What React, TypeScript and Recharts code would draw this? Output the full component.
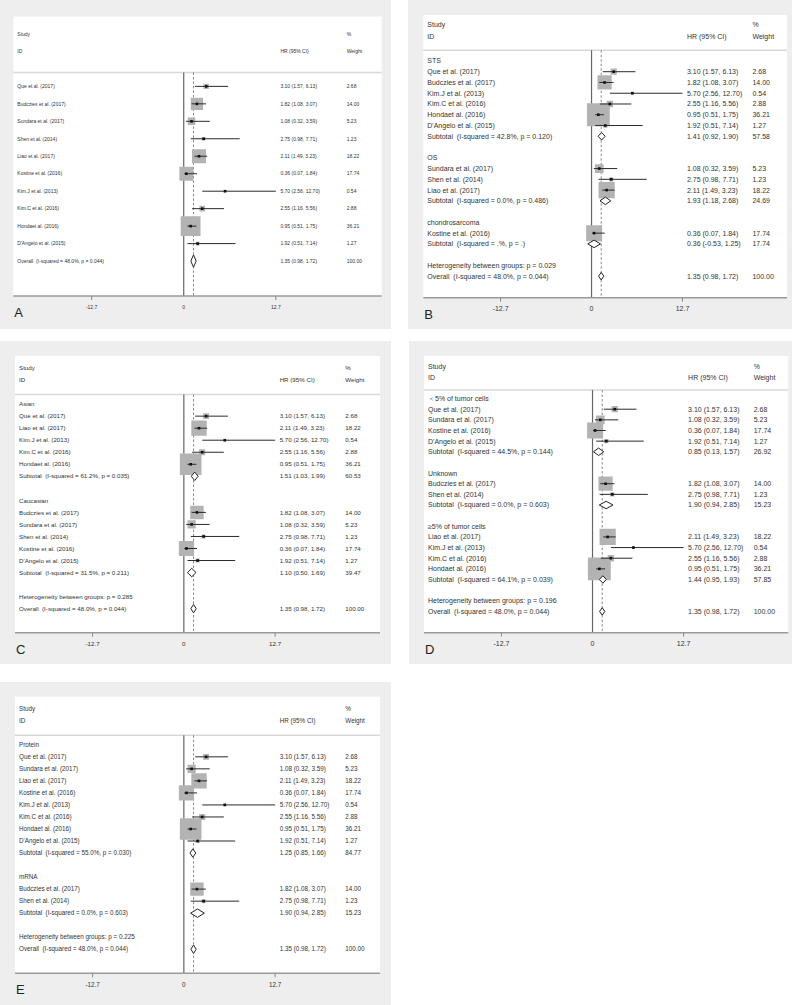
import React from "react";
import { ComposedChart, XAxis, YAxis, ZAxis, Scatter, ReferenceLine, CartesianGrid } from "recharts";

// study-level estimates (same ten studies in every panel)
const STUDIES = [
  "Que et al. (2017)",
  "Budczies et al. (2017)",
  "Sundara et al. (2017)",
  "Shen et al. (2014)",
  "Liao et al. (2017)",
  "Kostine et al. (2016)",
  "Kim.J et al. (2013)",
  "Kim.C et al. (2016)",
  "Hondaet al. (2016)",
  "D'Angelo et al. (2015)",
];
const HR = [3.1, 1.82, 1.08, 2.75, 2.11, 0.36, 5.7, 2.55, 0.95, 1.92];
const LO = [1.57, 1.08, 0.32, 0.98, 1.49, 0.07, 2.56, 1.16, 0.51, 0.51];
const HI = [6.13, 3.07, 3.59, 7.71, 3.23, 1.84, 12.7, 5.56, 1.75, 7.14];
const WEIGHT = [2.68, 14.0, 5.23, 1.23, 18.22, 17.74, 0.54, 2.88, 36.21, 1.27];

const OVERALL_EST = [1.35, 0.98, 1.72];
const OVERALL_STAT = "I-squared = 48.0%, p = 0.044";

const X_TICKS = [-12.7, 0, 12.7];
const X_DOMAIN: [number, number] = [-23.5, 27.3];

// B: histology
const B_NAMES = ["STS", "OS", "chondrosarcoma"];
const B_MEMBERS = [[0, 1, 6, 7, 8, 9], [2, 3, 4], [5]];
const B_SUB = [[1.41, 0.92, 1.9], [1.93, 1.18, 2.68], [0.36, -0.53, 1.25]];
const B_SUB_W = [57.58, 24.69, 17.74];
const B_STAT = ["I-squared = 42.8%, p = 0.120", "I-squared = 0.0%, p = 0.486", "I-squared = .%, p = ."];
const B_HET = "0.029";

// C: ethnicity
const C_NAMES = ["Asian", "Caucasian"];
const C_MEMBERS = [[0, 4, 6, 7, 8], [1, 2, 3, 5, 9]];
const C_SUB = [[1.51, 1.03, 1.99], [1.1, 0.5, 1.69]];
const C_SUB_W = [60.53, 39.47];
const C_STAT = ["I-squared = 61.2%, p = 0.035", "I-squared = 31.5%, p = 0.211"];
const C_HET = "0.285";

// D: cut-off
const D_NAMES = ["\uFF1C5% of tumor cells", "Unknown", "\u22655% of tumor cells"];
const D_MEMBERS = [[0, 2, 5, 9], [1, 3], [4, 6, 7, 8]];
const D_SUB = [[0.85, 0.13, 1.57], [1.9, 0.94, 2.85], [1.44, 0.95, 1.93]];
const D_SUB_W = [26.92, 15.23, 57.85];
const D_STAT = ["I-squared = 44.5%, p = 0.144", "I-squared = 0.0%, p = 0.603", "I-squared = 64.1%, p = 0.039"];
const D_HET = "0.196";

// E: detection method
const E_NAMES = ["Protein", "mRNA"];
const E_MEMBERS = [[0, 2, 4, 5, 6, 7, 8, 9], [1, 3]];
const E_SUB = [[1.25, 0.85, 1.66], [1.9, 0.94, 2.85]];
const E_SUB_W = [84.77, 15.23];
const E_STAT = ["I-squared = 55.0%, p = 0.030", "I-squared = 0.0%, p = 0.603"];
const E_HET = "0.225";

const FONT = "'Liberation Sans', Arial, sans-serif";
const TEXT = "#333";

type Row = { y: number; kind: string; label: string; hr?: number; lo?: number; hi?: number; w?: number };

function fmt(hr: number, lo: number, hi: number) {
  return `${hr.toFixed(2)} (${lo.toFixed(2)}, ${hi.toFixed(2)})`;
}

function buildRows(names?: string[], members?: number[][], sub?: number[][], subW?: number[], stat?: string[], het?: string) {
  const rows: Row[] = [];
  let y = 0;
  const study = (i: number) =>
    rows.push({ y: y++, kind: "study", label: STUDIES[i], hr: HR[i], lo: LO[i], hi: HI[i], w: WEIGHT[i] });
  if (!names) {
    STUDIES.forEach((_, i) => study(i));
  } else {
    names.forEach((name, g) => {
      rows.push({ y: y++, kind: "group", label: name });
      members![g].forEach(study);
      rows.push({
        y: y++, kind: "sub", label: `Subtotal  (${stat![g]})`,
        hr: sub![g][0], lo: sub![g][1], hi: sub![g][2], w: subW![g],
      });
      y++;
    });
    rows.push({ y: y++, kind: "het", label: `Heterogeneity between groups: p = ${het}` });
  }
  rows.push({
    y: y++, kind: "overall", label: `Overall  (${OVERALL_STAT})`,
    hr: OVERALL_EST[0], lo: OVERALL_EST[1], hi: OVERALL_EST[2], w: 100,
  });
  return { rows, n: y };
}

type Panel = {
  letter: string;
  box: { x: number; y: number; w: number; h: number };
  plot: { l: number; t: number; r: number; b: number };
  font: number;
  boxK: number;
  yTop?: number;
  hdr?: [number, number];
  sep?: number;
  data: { rows: Row[]; n: number };
};

const PANELS: Panel[] = [
  {
    letter: "A", box: { x: 0, y: 0, w: 391, h: 329 }, plot: { l: 13.3, t: 16.5, r: 381.7, b: 296 },
    font: 5, boxK: 3.3, data: buildRows(),
  },
  {
    letter: "B", box: { x: 408, y: 0, w: 384, h: 329 }, plot: { l: 423.3, t: 15, r: 787, b: 297.7 },
    font: 7, boxK: 3.8, yTop: -4.27, hdr: [-3.35, -2.25], sep: -1.0,
    data: buildRows(B_NAMES, B_MEMBERS, B_SUB, B_SUB_W, B_STAT, B_HET),
  },
  {
    letter: "C", box: { x: 0, y: 341, w: 391, h: 323 }, plot: { l: 15, t: 356, r: 380, b: 632.7 },
    font: 6.2, boxK: 3.6, data: buildRows(C_NAMES, C_MEMBERS, C_SUB, C_SUB_W, C_STAT, C_HET),
  },
  {
    letter: "D", box: { x: 409, y: 341, w: 383, h: 323 }, plot: { l: 424, t: 356, r: 788.3, b: 632.7 },
    font: 7, boxK: 3.8, data: buildRows(D_NAMES, D_MEMBERS, D_SUB, D_SUB_W, D_STAT, D_HET),
  },
  {
    letter: "E", box: { x: 0, y: 682, w: 391, h: 323 }, plot: { l: 15, t: 696.7, r: 380, b: 973.3 },
    font: 6.3, boxK: 3.6, data: buildRows(E_NAMES, E_MEMBERS, E_SUB, E_SUB_W, E_STAT, E_HET),
  },
];

const X_AXIS_H = 20;

function ForestPanel({ p }: { p: Panel }) {
  const { rows, n } = p.data;
  const yTop = p.yTop ?? -4;
  const yBottom = n + 1;
  const hdr = p.hdr ?? [-3, -2];
  const sep = p.sep ?? -0.8;
  const plotW = p.plot.r - p.plot.l;
  const hrDx = plotW * 0.725;
  const wDx = plotW * 0.905;
  const margin = {
    left: p.plot.l - p.box.x,
    top: p.plot.t - p.box.y,
    right: p.box.x + p.box.w - p.plot.r,
    bottom: p.box.y + p.box.h - p.plot.b - X_AXIS_H,
  };

  const studyRows = rows.filter((r) => r.kind === "study");
  const studies = studyRows.map((r) => ({ x: r.hr!, y: r.y, w: r.w! }));
  const ciLines = studyRows.map((r) => [
    { x: r.lo!, y: r.y },
    { x: r.hi!, y: r.y },
  ]);
  const diamonds = rows
    .filter((r) => r.kind === "sub" || r.kind === "overall")
    .map((r) => [
      { x: r.lo!, y: r.y },
      { x: r.hr!, y: r.y - 0.35 },
      { x: r.hi!, y: r.y },
      { x: r.hr!, y: r.y + 0.35 },
      { x: r.lo!, y: r.y },
    ]);
  const byY = new Map(rows.map((r) => [r.y, r]));
  const yTicks = [...hdr, ...rows.map((r) => r.y)];

  const txt = (x: number, y: number, s: string, key: string) => (
    <text key={key} x={x} y={y} dy="0.35em" fontSize={p.font} fontFamily={FONT} fill={TEXT} style={{ whiteSpace: "pre" }}>
      {s}
    </text>
  );

  const rowTick = (t: any) => {
    const v = t.payload.value;
    const x = t.x;
    const y = t.y;
    if (v === hdr[0]) return <g>{txt(x + 4, y, "Study", "a")}{txt(x + wDx, y, "%", "b")}</g>;
    if (v === hdr[1])
      return <g>{txt(x + 4, y, "ID", "a")}{txt(x + hrDx, y, "HR (95% CI)", "b")}{txt(x + wDx, y, "Weight", "c")}</g>;
    const r = byY.get(v);
    if (!r) return <g />;
    return (
      <g>
        {txt(x + 4, y, r.label, "a")}
        {r.hr !== undefined && txt(x + hrDx, y, fmt(r.hr, r.lo!, r.hi!), "b")}
        {r.w !== undefined && txt(x + wDx, y, r.w.toFixed(2), "c")}
      </g>
    );
  };

  const xTick = (t: any) => {
    const v = t.payload.value;
    return (
      <g>
        {v !== 0 && <line x1={t.x} x2={t.x} y1={t.y} y2={t.y + 4} stroke="#888" strokeWidth={1} />}
        <text x={t.x} y={t.y + 11} dy="0.35em" textAnchor="middle" fontSize={p.font} fontFamily={FONT} fill={TEXT}>
          {String(v)}
        </text>
      </g>
    );
  };

  return (
    <div style={{ position: "absolute", left: p.box.x, top: p.box.y, width: p.box.w, height: p.box.h, background: "#eeeeee" }}>
      <ComposedChart width={p.box.w} height={p.box.h} margin={margin}>
        <CartesianGrid fill="#ffffff" stroke="none" horizontal={false} vertical={false} />
        <XAxis
          type="number" dataKey="x" domain={X_DOMAIN} allowDataOverflow ticks={X_TICKS} interval={0}
          height={X_AXIS_H} tickSize={0} tickMargin={0} tickLine={false}
          axisLine={{ stroke: "#9a9a9a", strokeWidth: 1.5 }} tick={xTick}
        />
        <YAxis
          type="number" dataKey="y" domain={[yTop, yBottom]} allowDataOverflow reversed mirror
          ticks={yTicks} interval={0} tickSize={0} tickMargin={0} tickLine={false} axisLine={false} tick={rowTick}
        />
        <ZAxis type="number" dataKey="w" domain={[0, 100]} range={[0, 100 * p.boxK * p.boxK]} />
        <ReferenceLine y={sep} stroke="#d8d8d8" strokeWidth={1.5} />
        <ReferenceLine segment={[{ x: 0, y: sep }, { x: 0, y: yBottom }]} stroke="#666" strokeWidth={1.2} />
        <ReferenceLine
          segment={[{ x: OVERALL_EST[0], y: sep }, { x: OVERALL_EST[0], y: yBottom }]}
          stroke="#888" strokeWidth={1} strokeDasharray="2.5 2"
        />
        <Scatter data={studies} shape="square" fill="#b3b3b3" isAnimationActive={false} />
        {ciLines.map((d, i) => (
          <Scatter
            key={"ci" + i}
            data={d}
            isAnimationActive={false}
            shape={() => <g />}
            line={{ stroke: "#2a2a2a", strokeWidth: 1 }}
          />
        ))}
        <Scatter
          data={studies}
          isAnimationActive={false}
          shape={(s: any) => <rect x={s.cx - 1.3} y={s.cy - 1.3} width={2.6} height={2.6} fill="#111" />}
        />
        {diamonds.map((d, i) => (
          <Scatter
            key={"dm" + i}
            data={d}
            isAnimationActive={false}
            shape={() => <g />}
            line={{ stroke: "#222", strokeWidth: 1, fill: "#ffffff" }}
          />
        ))}
      </ComposedChart>
      <div
        style={{
          position: "absolute",
          left: p.plot.l - p.box.x + 1,
          top: p.plot.b - p.box.y + 10,
          fontFamily: FONT,
          fontSize: 13,
          lineHeight: "13px",
          color: "#222",
        }}
      >
        {p.letter}
      </div>
    </div>
  );
}

export default function App() {
  return (
    <div style={{ position: "absolute", left: 0, top: 0, width: 800, height: 1005, background: "#ffffff" }}>
      {PANELS.map((p) => (
        <ForestPanel key={p.letter} p={p} />
      ))}
    </div>
  );
}
